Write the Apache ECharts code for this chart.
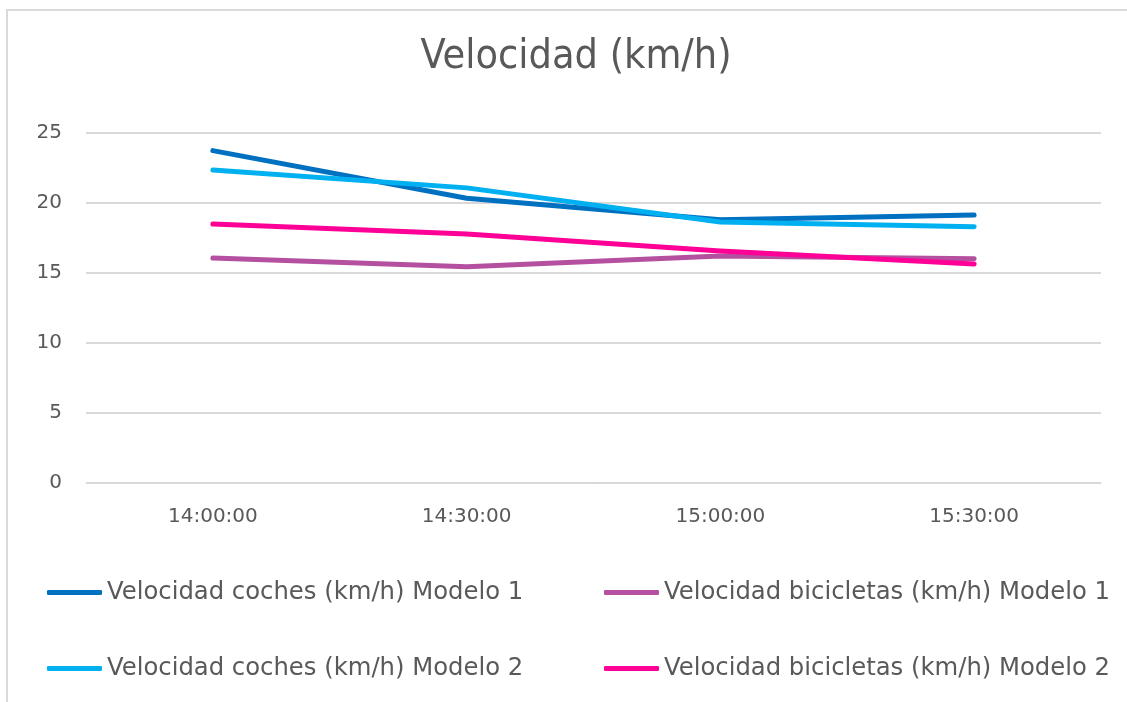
<!DOCTYPE html>
<html>
<head>
<meta charset="utf-8">
<script src="https://cdn.jsdelivr.net/npm/echarts@6/dist/echarts.min.js"></script>
<style>
  html, body { margin: 0; padding: 0; background: #ffffff; }
  #chart { width: 1127px; height: 702px; }
</style>
</head>
<body>
<div id="chart"></div>
<script>
// Time slots on the x axis
const categories = ['14:00:00', '14:30:00', '15:00:00', '15:30:00'];

// Speeds in km/h
const cochesModelo1 = [23.74, 20.34, 18.8, 19.14];
const biciModelo1 = [16.07, 15.45, 16.22, 16.02];
const cochesModelo2 = [22.36, 21.08, 18.65, 18.31];
const biciModelo2 = [18.5, 17.79, 16.57, 15.64];

// Y axis ticks
const yMin = 0;
const yMax = 25;
const yStep = 5;

const names = [
  'Velocidad coches (km/h) Modelo 1',
  'Velocidad bicicletas (km/h) Modelo 1',
  'Velocidad coches (km/h) Modelo 2',
  'Velocidad bicicletas (km/h) Modelo 2'
];
const colors = ['#0070C0', '#B4509F', '#00B0F0', '#FF0097'];
const values = [cochesModelo1, biciModelo1, cochesModelo2, biciModelo2];

const textColor = '#595959';
const fontFam = '"DejaVu Sans", sans-serif';

const chart = echarts.init(document.getElementById('chart'), null, { renderer: 'canvas' });

const legendBase = {
  orient: 'vertical',
  top: 579,
  padding: 0,
  itemWidth: 55,
  itemHeight: 5,
  itemGap: 49,
  icon: 'roundRect',
  textStyle: { color: textColor, fontSize: 24.3, lineHeight: 27, fontFamily: fontFam, fontWeight: 'normal' }
};

chart.setOption({
  animation: false,
  backgroundColor: '#ffffff',
  graphic: [{
    type: 'rect',
    shape: { x: 7, y: 10, width: 1300, height: 900 },
    style: { fill: 'none', stroke: '#d9d9d9', lineWidth: 2 },
    silent: true
  }],
  title: {
    text: 'Velocidad (km/h)',
    left: 571,
    textAlign: 'center',
    top: 32,
    textStyle: {
      color: textColor,
      fontSize: 41,
      fontWeight: 300,
      fontFamily: '"DejaVu Sans Condensed", "DejaVu Sans", sans-serif'
    }
  },
  legend: [
    Object.assign({}, legendBase, { left: 47, data: [names[0], names[2]] }),
    Object.assign({}, legendBase, { left: 604, data: [names[1], names[3]] })
  ],
  grid: { left: 86, right: 26, top: 133, bottom: 219 },
  xAxis: {
    type: 'category',
    data: categories,
    boundaryGap: true,
    axisLine: { show: true, lineStyle: { color: '#d9d9d9', width: 1 } },
    axisTick: { show: false },
    axisLabel: { color: textColor, fontSize: 20, fontFamily: fontFam, margin: 24 }
  },
  yAxis: {
    type: 'value',
    min: yMin,
    max: yMax,
    interval: yStep,
    axisLine: { show: false },
    axisTick: { show: false },
    axisLabel: { color: textColor, fontSize: 20, fontFamily: fontFam, margin: 24 },
    splitLine: { lineStyle: { color: '#d9d9d9', width: 2 } }
  },
  series: names.map((n, i) => ({
    name: n,
    type: 'line',
    data: values[i],
    color: colors[i],
    showSymbol: false,
    symbol: 'none',
    lineStyle: { width: 5, cap: 'round', join: 'round' },
    emphasis: { disabled: true }
  }))
});
</script>
</body>
</html>
